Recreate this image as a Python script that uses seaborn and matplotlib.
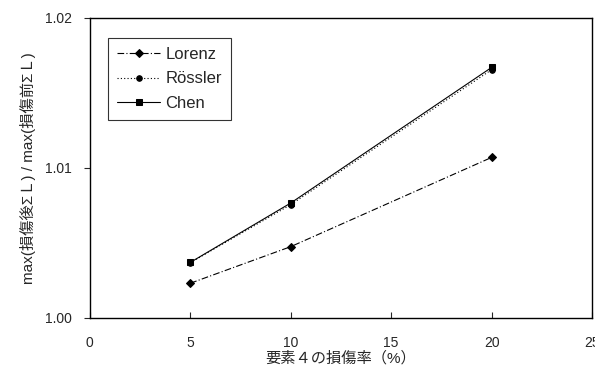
import pandas as pd
import seaborn as sns
import matplotlib.pyplot as plt

# damage ratio of element 4 (%) and normalized max sum L
damage = [5, 10, 20]
lorenz = [1.00231, 1.00475, 1.01070]
rossler = [1.00368, 1.00755, 1.01655]
chen = [1.00370, 1.00766, 1.01670]

series = {"Lorenz": lorenz, "Rössler": rossler, "Chen": chen}
styles = {"Lorenz": ((0, (6, 2, 1, 2)), "D", 4),
          "Rössler": ((0, (1, 2)), "o", 4),
          "Chen": ("-", "s", 4.5)}

rows = []
for name, vals in series.items():
    for d, v in zip(damage, vals):
        rows.append({"damage": d, "ratio": v, "model": name})
df = pd.DataFrame(rows)

sns.set_style("ticks")
plt.rcParams['font.family'] = ['Liberation Sans', 'Noto Sans CJK JP']

fig = plt.figure(figsize=(5.95, 3.74), dpi=100)
ax = fig.add_axes([0.151, 0.150, 0.844, 0.802])

for name in series:
    ls, mk, ms = styles[name]
    sns.lineplot(data=df[df["model"] == name], x="damage", y="ratio", ax=ax,
                 color="black", linestyle=ls, marker=mk, markersize=ms,
                 markeredgecolor="black", linewidth=0.8, label=name)

ax.set_xlim(0, 25)
ax.set_ylim(1.00, 1.02)
ax.set_xticks([0, 5, 10, 15, 20, 25])
ax.set_yticks([1.00, 1.01, 1.02])
ax.set_yticklabels(["1.00", "1.01", "1.02"])
ax.tick_params(axis="x", direction="in", length=4, width=0.8, pad=13, labelsize=10)
ax.tick_params(axis="y", direction="out", length=4, width=0.8, pad=9, labelsize=10)
for sp in ax.spines.values():
    sp.set_visible(True)
    sp.set_linewidth(1.0)
    sp.set_color("black")

ax.set_xlabel("要素４の損傷率（%）", fontsize=11, labelpad=1)
ax.set_ylabel("max(損傷後ΣＬ) / max(損傷前ΣＬ)", fontsize=11, labelpad=6)

leg = ax.legend(loc="upper left", bbox_to_anchor=(0.036, 0.933), borderaxespad=0,
                fontsize=12, frameon=True, fancybox=False, edgecolor="black",
                handlelength=2.6, handletextpad=0.3, labelspacing=0.55,
                borderpad=0.55)
leg.get_frame().set_linewidth(0.8)

fig.savefig("out.png", dpi=100)
